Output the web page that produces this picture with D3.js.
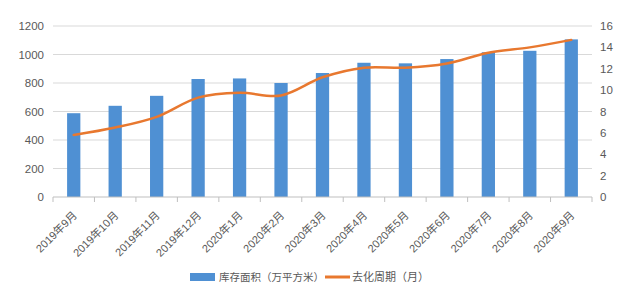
<!DOCTYPE html>
<html>
<head>
<meta charset="utf-8">
<script src="https://cdn.jsdelivr.net/npm/d3@7"></script>
<style>
  body { margin: 0; background: #fff; }
  text { font-family: "Liberation Sans", "Noto Sans CJK SC", sans-serif; }
</style>
</head>
<body>
<svg id="chart" width="640" height="291"></svg>
<script>
// Chart data
const months = ['2019年9月', '2019年10月', '2019年11月', '2019年12月', '2020年1月', '2020年2月',
  '2020年3月', '2020年4月', '2020年5月', '2020年6月', '2020年7月', '2020年8月', '2020年9月'];
const inventory = [588, 640, 710, 828, 832, 800, 870, 942, 938, 968, 1016, 1026, 1106];
const cycle = [5.8, 6.5, 7.5, 9.3, 9.75, 9.5, 11.2, 12.1, 12.1, 12.5, 13.5, 14.0, 14.7];
const leftTicks = [0, 200, 400, 600, 800, 1000, 1200];
const rightTicks = [0, 2, 4, 6, 8, 10, 12, 14, 16];
const legendLabels = ['库存面积（万平方米）', '去化周期（月）'];

const colors = { bar: '#4f90d3', line: '#e8782f', grid: '#d9d9d9', text: '#595959' };
const margin = { top: 26, right: 48, bottom: 94, left: 53 };
const width = 640, height = 291;

const svg = d3.select('#chart');
const x = d3.scaleBand().domain(months).range([margin.left, width - margin.right]);
const yL = d3.scaleLinear().domain([0, 1200]).range([height - margin.bottom, margin.top]);
const yR = d3.scaleLinear().domain([0, 16]).range([height - margin.bottom, margin.top]);

// Gridlines
svg.append('g').selectAll('line').data(leftTicks.slice(1)).join('line')
  .attr('x1', margin.left).attr('x2', width - margin.right)
  .attr('y1', d => yL(d)).attr('y2', d => yL(d))
  .attr('stroke', colors.grid).attr('stroke-width', 1);

// Bars
const barW = x.bandwidth() * 0.32;
svg.append('g').selectAll('rect').data(inventory).join('rect')
  .attr('x', (d, i) => x(months[i]) + x.bandwidth() / 2 - barW / 2)
  .attr('y', d => yL(d))
  .attr('width', barW)
  .attr('height', d => yL(0) - yL(d))
  .attr('fill', colors.bar);

// X axis
const xAxis = svg.append('g')
  .attr('transform', `translate(0,${height - margin.bottom})`);
xAxis.append('line')
  .attr('x1', margin.left).attr('x2', width - margin.right)
  .attr('stroke', '#bfbfbf');
xAxis.selectAll('line.tick').data(d3.range(months.length + 1)).join('line')
  .attr('class', 'tick')
  .attr('x1', i => margin.left + i * x.step()).attr('x2', i => margin.left + i * x.step())
  .attr('y1', 0).attr('y2', 5)
  .attr('stroke', '#bfbfbf');
xAxis.selectAll('text').data(months).join('text')
  .attr('transform', d => `translate(${x(d) + x.bandwidth() / 2 + 4},${19}) rotate(-45)`)
  .attr('text-anchor', 'end')
  .attr('font-size', 11)
  .attr('fill', colors.text)
  .text(d => d);

// Left axis labels
svg.append('g').selectAll('text').data(leftTicks).join('text')
  .attr('x', margin.left - 9).attr('y', d => yL(d)).attr('dy', '0.35em')
  .attr('text-anchor', 'end').attr('font-size', 11.5).attr('fill', colors.text)
  .text(d => d);

// Right axis labels
svg.append('g').selectAll('text').data(rightTicks).join('text')
  .attr('x', width - margin.right + 8).attr('y', d => yR(d)).attr('dy', '0.35em')
  .attr('text-anchor', 'start').attr('font-size', 11.5).attr('fill', colors.text)
  .text(d => d);

// Line
const line = d3.line()
  .x((d, i) => x(months[i]) + x.bandwidth() / 2)
  .y(d => yR(d))
  .curve(d3.curveCatmullRom.alpha(0.5));
svg.append('path').datum(cycle)
  .attr('d', line)
  .attr('fill', 'none')
  .attr('stroke', colors.line)
  .attr('stroke-width', 2.5)
  .attr('stroke-linecap', 'round');

// Legend
const legend = svg.append('g').attr('transform', 'translate(190,277)');
legend.append('rect').attr('x', 0).attr('y', -4).attr('width', 25).attr('height', 8).attr('fill', colors.bar);
legend.append('text').attr('x', 29).attr('y', 0).attr('dy', '0.35em')
  .attr('font-size', 10.5).attr('fill', colors.text)
  .style('font-family', '"Noto Sans CJK SC", sans-serif')
  .text(legendLabels[0]);
legend.append('line').attr('x1', 135).attr('x2', 160).attr('y1', 0).attr('y2', 0)
  .attr('stroke', colors.line).attr('stroke-width', 3);
legend.append('text').attr('x', 162).attr('y', 0).attr('dy', '0.35em')
  .attr('font-size', 11).attr('fill', colors.text)
  .style('font-family', '"Noto Sans CJK SC", sans-serif')
  .text(legendLabels[1]);
</script>
</body>
</html>
